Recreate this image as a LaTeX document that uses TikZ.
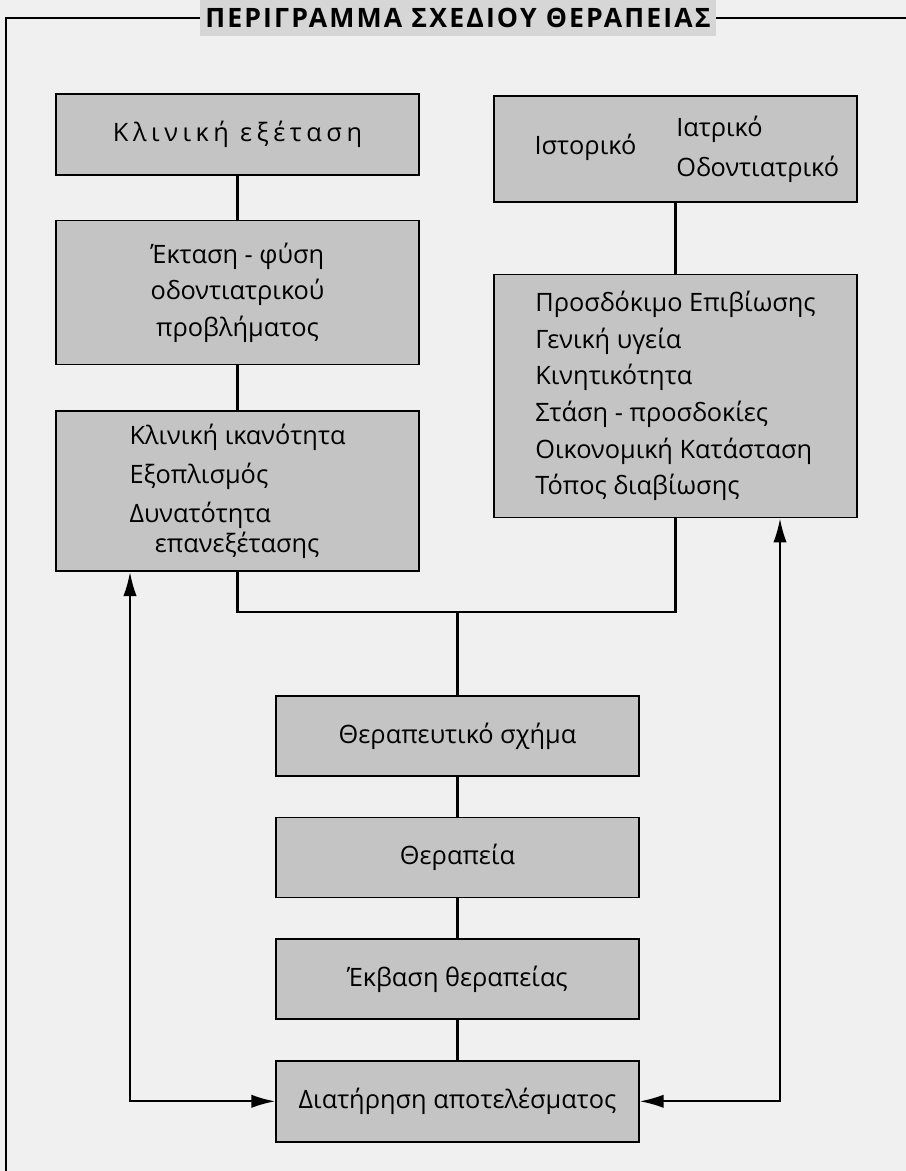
\documentclass[tikz,border=0pt]{standalone}
\usepackage{fontspec}
\setmainfont{Open Sans}
\newfontfamily\boxfont{Open Sans}
\newfontfamily\spacedfont[LetterSpace=18]{Open Sans}
\newfontfamily\titlefont[LetterSpace=8]{Open Sans}
\usepackage{xcolor}
\usepackage{tikz}
\usetikzlibrary{arrows.meta,positioning}
\definecolor{bggray}{gray}{0.94}
\definecolor{boxgray}{gray}{0.77}
\definecolor{titlegray}{gray}{0.84}
\tikzset{
  mbox/.style={rectangle,draw=black,line width=1.2pt,fill=boxgray,
               minimum width=272pt,minimum height=#1,inner sep=2pt,
               font=\boxfont\fontsize{19}{27.5}\selectfont},
  mbox/.default=60pt,
  tbox/.style={rectangle,fill=titlegray,minimum height=27pt,inner xsep=4pt,
               font=\titlefont\bfseries\fontsize{20}{22}\selectfont},
  conn/.style={line width=1.6pt,color=black},
  frame/.style={line width=1.1pt,color=black},
  arr/.style={{Latex[length=18pt,width=10pt]}-{Latex[length=18pt,width=10pt]},
              line width=1.6pt,color=black},
}

\begin{document}
\begin{tikzpicture}[x=0.75pt,y=0.75pt]
    \path[use as bounding box,fill=bggray] (0,0) rectangle (906,-1171);

    \node[tbox] (title) at (458,-18) {ΠΕΡΙΓΡΑΜΜΑ ΣΧΕΔΙΟΥ ΘΕΡΑΠΕΙΑΣ};
    \draw[frame] (title.west) -- (6,-18) -- (6,-1171);
    \draw[frame] (title.east) -- (906,-18);

    % left column
    \node[mbox=60.75pt] (exam) at (237.5,-134.5) {\spacedfont Κλινική εξέταση};
    \node[mbox=108pt,align=center,below=33pt of exam] (extent)
      {Έκταση - φύση\\οδοντιατρικού\\προβλήματος};
    \node[mbox=120pt,align=left,below=33.75pt of extent] (skill)
      {Κλινική ικανότητα\\[2pt]Εξοπλισμός\\[2pt]Δυνατότητα\\[-5pt]\hspace{19pt}επανεξέτασης};

    % right column
    \node[mbox=79.5pt] (hist) at (675.5,-149)
      {\hspace{17pt}Ιστορικό\hspace{30pt}\begin{tabular}{@{}l@{}}Ιατρικό\\[3pt]Οδοντιατρικό\end{tabular}};
    \node[mbox=182.25pt,align=left,below=53.25pt of hist] (pat)
      {Προσδόκιμο Επιβίωσης\\Γενική υγεία\\Κινητικότητα\\Στάση - προσδοκίες\\Οικονομική Κατάσταση\\Τόπος διαβίωσης};

    % middle column
    \node[mbox] (plan) at (457.5,-736) {Θεραπευτικό σχήμα};
    \node[mbox,below=30pt of plan] (treat) {Θεραπεία};
    \node[mbox,below=30pt of treat] (outc) {Έκβαση θεραπείας};
    \node[mbox=60.75pt,below=30pt of outc] (keep) {Διατήρηση αποτελέσματος};

    \coordinate (jn) at (0,-612);
    \coordinate (lft) at (130,0);
    \coordinate (rgt) at (780,0);

    \draw[conn] (exam)--(extent);
    \draw[conn] (extent)--(skill);
    \draw[conn] (hist)--(pat);
    \draw[conn] (skill) -- (skill |- jn) -- (pat |- jn) -- (pat);
    \draw[conn] (plan) -- (plan |- jn);
    \draw[conn] (plan)--(treat);
    \draw[conn] (treat)--(outc);
    \draw[conn] (outc)--(keep);

    \draw[arr] (keep.west) -| (skill.south -| lft);
    \draw[arr] (keep.east) -| (pat.south -| rgt);
  \end{tikzpicture}
\end{document}
